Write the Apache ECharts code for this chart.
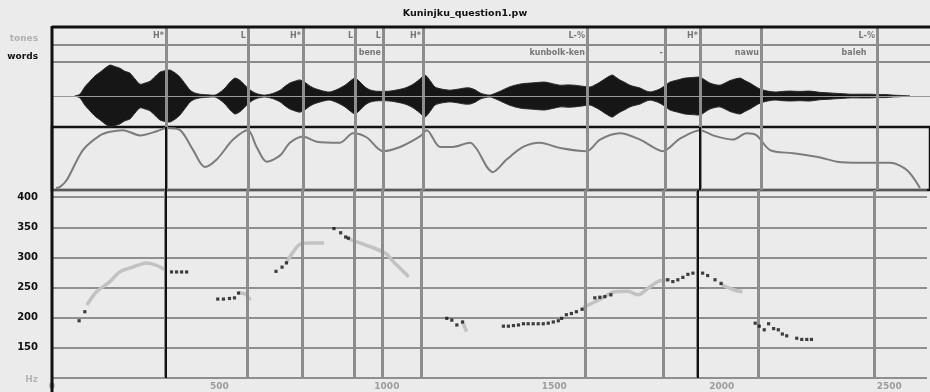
<!DOCTYPE html>
<html><head><meta charset="utf-8">
<script src="https://cdn.jsdelivr.net/npm/echarts@6/dist/echarts.min.js"></script>
<style>html,body{margin:0;padding:0;background:#ebebeb;}#c{width:930px;height:392px;}</style>
</head><body><div id="c"></div>
<script>
// ---------- data ----------
const titleText = 'Kuninjku_question1.pw';
const tierNames = ['words', 'tones'];
const timeTicks = [0, 500, 1000, 1500, 2000, 2500];
const pitchTicks = [100, 150, 200, 250, 300, 350, 400];
// boundaries (ms)
const boundaries = [339, 583, 747, 902, 985, 1104, 1592, 1824, 1928, 2110, 2455];
const cursorLines = [339, 1928];
// tone tier labels [end time, label]
const toneLabels = [[339,'H*'],[583,'L'],[747,'H*'],[902,'L'],[985,'L'],[1104,'H*'],[1592,'L-%'],[1928,'H*'],[2455,'L-%']];
// word tier labels [end time, label]
const wordLabels = [[985,'bene'],[1592,'kunbolk-ken'],[1824,'-'],[2110,'nawu'],[2430,'baleh']];
// waveform envelope [ms, amplitude]
const waveEnv = [[68,0],[83,0.06],[98,0.3],[113,0.48],[128,0.65],[143,0.77],[158,0.9],[173,1.0],[188,0.95],[202,0.9],[217,0.8],[232,0.74],[247,0.55],[262,0.38],[277,0.42],[292,0.48],[306,0.62],[321,0.77],[336,0.82],[351,0.84],[366,0.75],[381,0.61],[396,0.4],[411,0.19],[425,0.1],[440,0.06],[462,0.04],[485,0.03],[500,0.12],[515,0.26],[530,0.45],[545,0.58],[560,0.5],[574,0.35],[589,0.2],[604,0.1],[619,0.05],[634,0.03],[656,0.08],[679,0.19],[694,0.32],[708,0.42],[723,0.48],[738,0.52],[753,0.44],[768,0.32],[783,0.24],[798,0.19],[812,0.15],[827,0.13],[850,0.22],[872,0.35],[887,0.48],[902,0.58],[917,0.45],[932,0.29],[946,0.2],[961,0.16],[984,0.15],[1006,0.16],[1028,0.2],[1051,0.26],[1066,0.33],[1080,0.42],[1095,0.55],[1110,0.68],[1125,0.5],[1140,0.29],[1162,0.22],[1184,0.19],[1207,0.22],[1229,0.26],[1244,0.26],[1259,0.2],[1274,0.1],[1289,0.05],[1304,0.03],[1326,0.12],[1348,0.23],[1363,0.3],[1378,0.35],[1400,0.4],[1423,0.42],[1445,0.44],[1467,0.45],[1490,0.4],[1512,0.35],[1534,0.36],[1556,0.35],[1578,0.32],[1601,0.29],[1616,0.36],[1631,0.45],[1649,0.58],[1667,0.68],[1679,0.6],[1690,0.52],[1705,0.44],[1720,0.35],[1735,0.3],[1750,0.26],[1765,0.18],[1780,0.13],[1795,0.17],[1809,0.23],[1824,0.33],[1839,0.45],[1862,0.52],[1884,0.58],[1906,0.6],[1929,0.61],[1943,0.52],[1958,0.42],[1973,0.37],[1988,0.35],[2003,0.42],[2018,0.5],[2033,0.55],[2048,0.58],[2062,0.5],[2077,0.42],[2092,0.32],[2107,0.23],[2130,0.16],[2152,0.13],[2174,0.15],[2196,0.16],[2226,0.15],[2256,0.16],[2285,0.12],[2315,0.1],[2345,0.08],[2375,0.06],[2405,0.06],[2434,0.06],[2456,0.05],[2479,0.05],[2502,0.03],[2524,0.02],[2553,0]];
// intensity contour [ms, dB]
const intensity = [[12,32],[24,33],[45,40],[92,68],[143,82],[173,85.5],[211,87],[262,82],[312,86],[341,89],[381,87],[420,68],[455,52],[490,59],[539,78],[583,87],[609,71],[639,57],[679,63],[708,75],[747,81],[788,76],[857,75],[896,84],[937,80],[985,67],[1036,71],[1095,81],[1115,87],[1155,71],[1193,71],[1244,75],[1262,70],[1312,47],[1353,59],[1402,71],[1452,75],[1512,70],[1591,67],[1631,78],[1690,84],[1750,78],[1818,67],[1869,79],[1929,87],[1967,82],[2027,78],[2067,84],[2097,82],[2137,68],[2205,65],[2286,61],[2336,57],[2405,56],[2494,56],[2544,49],[2583,32]];
// pitch points [ms, Hz]
const pitchDots = [[81,195],[98,210],
 [357,276],[372,276],[387,276],[402,276],
 [495,231],[512,231],[530,232],[545,233],[557,241],
 [669,277],[687,284],[700,291],
 [842,348],[862,341],[877,334],[885,332],
 [1179,199],[1194,196],[1209,188],[1226,193],
 [1348,186],[1363,186],[1378,187],[1393,188],[1408,190],[1422,190],[1437,190],[1452,190],[1467,190],[1482,191],[1497,193],[1512,195],[1522,199],[1536,205],[1551,207],[1566,210],[1583,214],
 [1621,233],[1636,234],[1651,235],[1669,238],
 [1839,263],[1854,260],[1869,263],[1884,267],[1899,272],[1914,274],[1943,274],[1958,270],[1980,263],[1998,257],
 [2100,191],[2112,186],[2127,180],[2140,190],[2155,182],[2169,180],[2181,173],[2194,170],[2224,166],[2239,164],[2254,164],[2268,164]];
// lighter pitch trace segments [ms, Hz]
const pitchTrace1 = [[104,221],[133,243],[173,260],[202,276],[241,284],[282,291],[312,287],[336,280]];
const pitchTrace2 = [[557,241],[575,240],[592,229]];
const pitchTrace3 = [[700,291],[708,299],[738,321],[768,324],[812,324]];
const pitchTrace4 = [[885,332],[896,329],[946,319],[996,307],[1021,292],[1045,279],[1065,268]];
const pitchTrace5 = [[1226,193],[1238,177]];
const pitchTrace6 = [[1583,214],[1591,218],[1631,229],[1681,243],[1720,244],[1750,238],[1780,249],[1809,260],[1839,263]];
const pitchTrace7 = [[1998,257],[2003,254],[2038,246],[2062,243]];

// ---------- chart ----------
const T_MAX = 2613;
const L = 52;
const chart = echarts.init(document.getElementById('c'));
const FONT = 'DejaVu Sans';
function boundaryMarks(extra) {
  return {silent: true, symbol: 'none', label: {show: false}, animation: false,
          lineStyle: {color: '#8d8d8d', width: 3, type: 'solid'},
          data: boundaries.map(t => ({xAxis: t})).concat(extra || [])};
}
const blackMarks = cursorLines.map(t => ({xAxis: t, lineStyle: {color: '#111', width: 2, type: 'solid'}}));

const xAx = (i, show) => ({
  type: 'value', gridIndex: i, min: 0, max: T_MAX, show: show,
  interval: 500,
  axisLine: {show: false}, axisTick: {show: false}, splitLine: {show: false},
  axisLabel: {show: show, color: '#9c9c9c', fontSize: 9, fontWeight: 'bold', fontFamily: FONT, margin: 4,
    formatter: v => timeTicks.indexOf(v) >= 0 ? String(v) : ''}
});

const traces = [pitchTrace1, pitchTrace2, pitchTrace3, pitchTrace4, pitchTrace5, pitchTrace6, pitchTrace7];

const option = {
  backgroundColor: '#ebebeb',
  animation: false,
  title: {text: titleText, left: 'center', top: 4,
    textStyle: {fontSize: 9.5, fontWeight: 'bold', fontFamily: FONT, color: '#111'}},
  grid: [
    {left: L, right: 0, top: 27, height: 35},
    {left: L, right: 0, top: 62, height: 65},
    {left: L, right: 0, top: 127, height: 63, show: true, borderColor: '#111', borderWidth: 2.5, backgroundColor: 'transparent'},
    {left: L, right: 0, top: 190, height: 188}
  ],
  xAxis: [xAx(0, false), xAx(1, false), xAx(2, false), xAx(3, true)],
  yAxis: [
    {type: 'category', gridIndex: 0, data: tierNames, axisLine: {show: false}, axisTick: {show: false},
     splitLine: {show: true, interval: 0, lineStyle: {color: '#8a8a8a', width: 2}},
     axisLabel: {margin: 14, fontFamily: FONT, fontWeight: 'bold', fontSize: 9,
       formatter: v => v === 'words' ? '{w|' + v + '}' : '{t|' + v + '}',
       rich: {w: {color: '#111', fontSize: 9, fontWeight: 'bold', fontFamily: FONT, padding: [6, 0, 0, 0]},
              t: {color: '#b0b0b0', fontSize: 9, fontWeight: 'bold', fontFamily: FONT, padding: [6, 0, 0, 0]}}}},
    {type: 'value', gridIndex: 1, min: -1, max: 1.1, show: false, splitLine: {show: false}},
    {type: 'value', gridIndex: 2, min: 30, max: 90, show: false, splitLine: {show: false}},
    {type: 'value', gridIndex: 3, min: 100, max: 412, interval: 50,
     axisLine: {show: false}, axisTick: {show: false},
     splitLine: {show: true, lineStyle: {color: '#707070', width: 1.5}},
     axisLabel: {margin: 14, fontFamily: FONT, fontWeight: 'bold', fontSize: 10, color: '#111', showMaxLabel: false,
       formatter: v => v === 100 ? '{h|Hz}' : (pitchTicks.indexOf(v) >= 0 ? String(v) : ''),
       rich: {h: {color: '#b5b5b5', fontSize: 9, fontWeight: 'bold', fontFamily: FONT, padding: [4, 0, 0, 0]}}}}
  ],
  series: [
    {type: 'scatter', xAxisIndex: 0, yAxisIndex: 0, symbolSize: 0, z: 5,
     data: toneLabels.map(d => ({value: [d[0], 1], name: d[1]})).concat(
           wordLabels.map(d => ({value: [d[0], 0], name: d[1]}))),
     label: {show: true, position: 'left', distance: 2, formatter: '{b}', fontSize: 8, fontWeight: 'bold',
             fontFamily: FONT, color: '#5a5a5a'},
     markLine: boundaryMarks()},
    {type: 'line', xAxisIndex: 1, yAxisIndex: 1, data: [], z: 1, silent: true,
     markLine: boundaryMarks([{yAxis: 0, lineStyle: {color: '#9a9a9a', width: 1}}])},
    {type: 'custom', xAxisIndex: 1, yAxisIndex: 1, data: [[0, 0]], z: 4, silent: true,
     renderItem: (params, api) => {
       const up = waveEnv.map(d => api.coord([d[0], d[1]]));
       const dn = waveEnv.slice().reverse().map(d => api.coord([d[0], -d[1]]));
       return {type: 'polygon', shape: {points: up.concat(dn), smooth: 0.25},
               style: {fill: '#161616', stroke: '#2a2a2a', lineWidth: 1}};
     }},
    {type: 'line', xAxisIndex: 2, yAxisIndex: 2, data: intensity, showSymbol: false, smooth: 0.3,
     lineStyle: {color: '#7c7c7c', width: 2}, z: 3,
     markLine: boundaryMarks(blackMarks)},
    ...traces.map((seg, i) => ({type: 'line', xAxisIndex: 3, yAxisIndex: 3, data: seg, showSymbol: false,
      smooth: 0.3, lineStyle: {color: '#c2c2c2', width: 3.5}, z: 3,
      markLine: i === 0 ? boundaryMarks(blackMarks) : undefined})),
    {type: 'scatter', xAxisIndex: 3, yAxisIndex: 3, data: pitchDots, symbol: 'rect', symbolSize: 3.2,
     itemStyle: {color: '#111'}, z: 6}
  ],
  graphic: [
    {type: 'line', shape: {x1: L, y1: 27, x2: 930, y2: 27}, style: {stroke: '#111', lineWidth: 3}, z: 10},
    {type: 'line', shape: {x1: L, y1: 26, x2: L, y2: 392}, style: {stroke: '#111', lineWidth: 3}, z: 10}
  ]
};
chart.setOption(option);
</script></body></html>
